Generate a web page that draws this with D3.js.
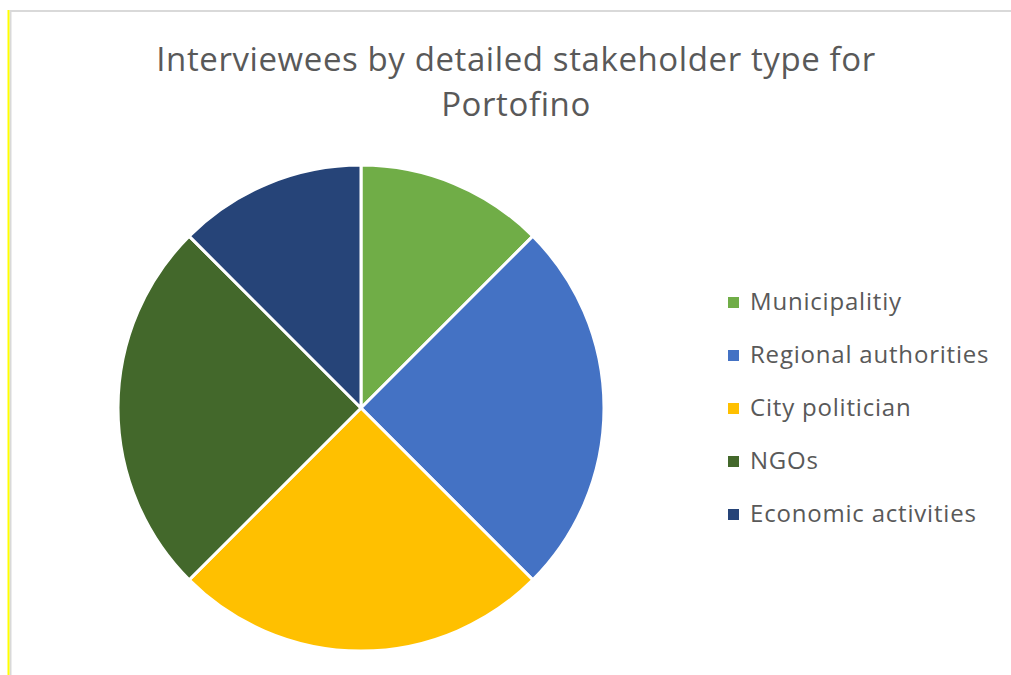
<!DOCTYPE html>
<html lang="en">
<head>
  <meta charset="UTF-8">
  <title>Interviewees by stakeholder type</title>
  <style type="text/css">
    body{
      margin: 0;
      background: #fff;
    }
    .title{
      font-family: "Open Sans", Lato, sans-serif;
      font-size: 33px;
      letter-spacing: 0.6px;
      fill: #595959;
    }
    .legend text{
      font-family: "Open Sans", Lato, sans-serif;
      font-size: 24px;
      letter-spacing: 0.8px;
      fill: #595959;
    }
  </style>
  <script type="text/javascript" src="https://d3js.org/d3.v7.min.js"></script>
</head>
<body>
<script type="text/javascript">
  var categories = ['Municipalitiy', 'Regional authorities', 'City politician', 'NGOs', 'Economic activities'];
  var values = [1, 2, 2, 2, 1];
  var colours = ['#70AD47', '#4472C4', '#FFC000', '#43682B', '#264478'];
  var titleLines = ['Interviewees by detailed stakeholder type for', 'Portofino'];

  var width = 1011, height = 675;

  var svg = d3.select('body')
    .append('svg')
    .attr('width', width)
    .attr('height', height);

  // frame edges
  svg.append('line')
    .attr('x1', 10.5).attr('x2', 10.5).attr('y1', 10).attr('y2', height)
    .attr('stroke', '#d9d9d9').attr('stroke-width', 2);
  svg.append('line')
    .attr('x1', 10).attr('x2', width).attr('y1', 11).attr('y2', 11)
    .attr('stroke', '#d9d9d9').attr('stroke-width', 2);
  svg.append('line')
    .attr('x1', 8.5).attr('x2', 8.5).attr('y1', 10).attr('y2', height)
    .attr('stroke', '#ffff00').attr('stroke-width', 2);

  svg.selectAll('.title')
    .data(titleLines)
    .enter().append('text')
    .attr('class', 'title')
    .attr('x', 516)
    .attr('y', function(d, i){ return 71 + i * 45; })
    .attr('text-anchor', 'middle')
    .text(function(d){ return d; });

  var color = d3.scaleOrdinal()
    .domain(categories)
    .range(colours);

  var pie = d3.pie()
    .sort(null)
    .value(function(d){ return d.value; });

  var data = categories.map(function(c, i){ return {name: c, value: values[i]}; });

  var arc = d3.arc()
    .innerRadius(0)
    .outerRadius(243);

  var g = svg.append('g')
    .attr('transform', 'translate(361,408)');

  g.selectAll('path')
    .data(pie(data))
    .enter().append('path')
    .attr('d', arc)
    .attr('fill', function(d){ return color(d.data.name); })
    .attr('stroke', '#fff')
    .attr('stroke-width', 3)
    .attr('stroke-linejoin', 'round');

  var legend = svg.selectAll('.legend')
    .data(categories)
    .enter().append('g')
    .attr('class', 'legend')
    .attr('transform', function(d, i){ return 'translate(728,' + (302 + i * 53) + ')'; });

  legend.append('rect')
    .attr('x', 0)
    .attr('y', -5)
    .attr('width', 11)
    .attr('height', 11)
    .attr('fill', color);

  legend.append('text')
    .attr('x', 22)
    .attr('y', 0)
    .attr('dy', '0.35em')
    .text(function(d){ return d; });
</script>
</body>
</html>
